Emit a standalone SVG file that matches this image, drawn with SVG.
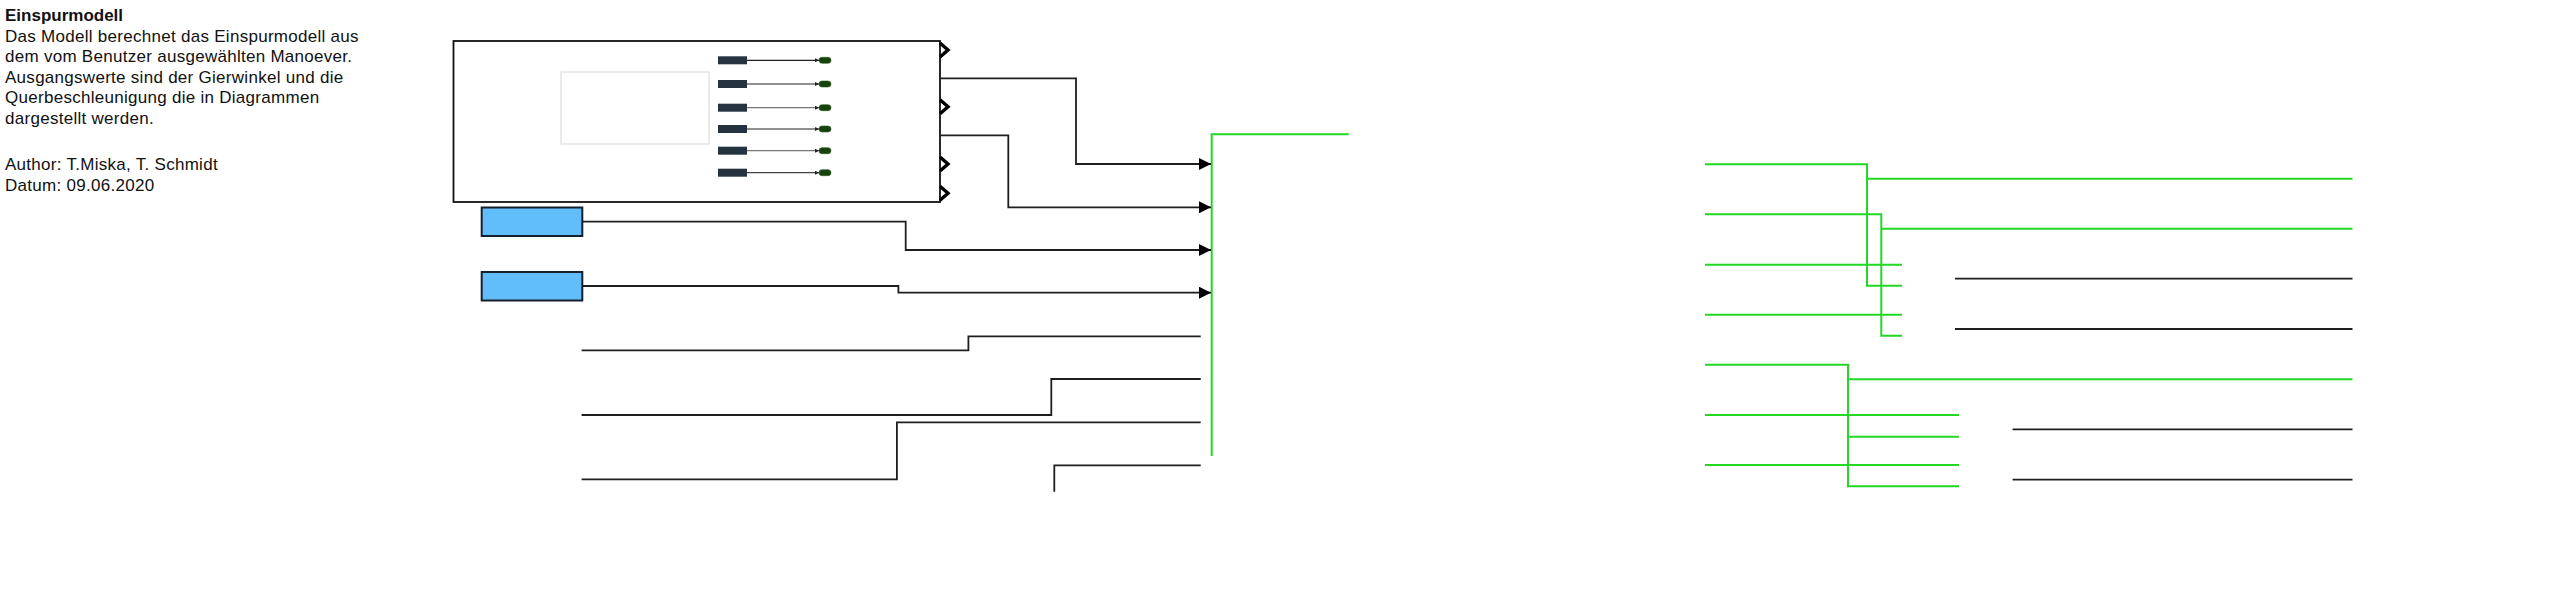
<svg xmlns="http://www.w3.org/2000/svg" width="2560" height="590" viewBox="0 0 2560 590">
<style>
.t{font-family:"Liberation Sans",Arial,sans-serif;font-size:17px;fill:#111;letter-spacing:0.28px}
.b{font-weight:bold;letter-spacing:0}
.w{fill:none;stroke:#1e1e1e;stroke-width:1.8}
.g{fill:none;stroke:#22d822;stroke-width:2}
.chev{fill:none;stroke:#000;stroke-width:3.4;stroke-linejoin:miter}
.port{fill:#25323f}
.led{fill:#17420f;stroke:#2a5a20;stroke-width:0.6}
.blue{fill:#62bdfb;stroke:#14202c;stroke-width:2}
</style>
<defs>
<marker id="ar" markerWidth="12" markerHeight="12" refX="12" refY="6" orient="auto" markerUnits="userSpaceOnUse">
<path d="M0,0 L12,6 L0,12 Z" fill="#000"/>
</marker>
<marker id="sa" markerWidth="4" markerHeight="4" refX="4" refY="2" orient="auto" markerUnits="userSpaceOnUse">
<path d="M0,0 L4,2 L0,4 Z" fill="#222"/>
</marker>
</defs>
<rect width="2560" height="590" fill="#fff"/>
<g id="note">
<text class="t b" x="5" y="20.7">Einspurmodell</text>
<text class="t" x="5" y="42.3">Das Modell berechnet das Einspurmodell aus</text>
<text class="t" x="5" y="62.3">dem vom Benutzer ausgewählten Manoever.</text>
<text class="t" x="5" y="82.8">Ausgangswerte sind der Gierwinkel und die</text>
<text class="t" x="5" y="103.3">Querbeschleunigung die in Diagrammen</text>
<text class="t" x="5" y="124">dargestellt werden.</text>
<text class="t" x="5" y="170.3">Author: T.Miska, T. Schmidt</text>
<text class="t" x="5" y="190.8">Datum: 09.06.2020</text>
</g>
<g id="subsystem">
<rect x="453.5" y="41" width="486.5" height="161" fill="#fff" stroke="#111" stroke-width="1.8"/>
<rect x="561" y="72" width="148" height="72" fill="none" stroke="#ddd" stroke-width="1.2"/>
<rect class="port" x="718" y="56.3" width="29" height="8"/>
<rect class="port" x="718" y="80" width="29" height="8"/>
<rect class="port" x="718" y="103.7" width="29" height="8"/>
<rect class="port" x="718" y="125" width="29" height="8"/>
<rect class="port" x="718" y="146.7" width="29" height="8"/>
<rect class="port" x="718" y="168.7" width="29" height="8"/>
<g stroke-width="1.2" fill="none">
<path d="M747,60.3 H819" stroke="#222" marker-end="url(#sa)"/>
<path d="M747,84 H819" stroke="#222" marker-end="url(#sa)"/>
<path d="M747,107.7 H819" stroke="#777" marker-end="url(#sa)"/>
<path d="M747,129 H819" stroke="#222" marker-end="url(#sa)"/>
<path d="M747,150.7 H819" stroke="#777" marker-end="url(#sa)"/>
<path d="M747,172.7 H819" stroke="#444" marker-end="url(#sa)"/>
</g>
<rect class="led" x="819" y="57.3" width="12" height="6" rx="3"/>
<rect class="led" x="819" y="81" width="12" height="6" rx="3"/>
<rect class="led" x="819" y="104.7" width="12" height="6" rx="3"/>
<rect class="led" x="819" y="126" width="12" height="6" rx="3"/>
<rect class="led" x="819" y="147.7" width="12" height="6" rx="3"/>
<rect class="led" x="819" y="169.7" width="12" height="6" rx="3"/>
<path class="chev" d="M940,43 L948,50 L940,57"/>
<path class="chev" d="M940,99.7 L948,106.7 L940,113.7"/>
<path class="chev" d="M940,157 L948,164 L940,171"/>
<path class="chev" d="M940,186.3 L948,193.3 L940,200.3"/>
</g>
<g id="input1"><rect class="blue" x="481.7" y="207.5" width="100.6" height="28.5"/></g>
<g id="input2"><rect class="blue" x="481.7" y="272" width="100.6" height="28.5"/></g>
<g id="mux">
<path class="g" d="M1348.7,134.3 H1211.7 V456"/>
</g>
<g id="outputs-right">
<path class="g" d="M1705,164.3 H1867 V285.7 H1902 M1867,178.7 H2352.5"/>
<path class="g" d="M1705,214.3 H1881.3 V335.7 H1902 M1881.3,228.7 H2352.5"/>
<path class="g" d="M1705,264.7 H1902"/>
<path class="g" d="M1705,314.7 H1902"/>
<path class="w" d="M1955,278.7 H2352.5"/>
<path class="w" d="M1955,329 H2352.5"/>
<path class="g" d="M1705,364.7 H1848 V486.3 H1959 M1848,379.3 H2352.5 M1848,436.7 H1959"/>
<path class="g" d="M1705,415 H1959"/>
<path class="g" d="M1705,465 H1959"/>
<path class="w" d="M2012.6,429.3 H2352.5"/>
<path class="w" d="M2012.6,479.7 H2352.5"/>
</g>
<g id="connectors">
<path class="w" d="M940,78.3 H1076 V164 H1211" marker-end="url(#ar)"/>
<path class="w" d="M940,135.3 H1008.3 V207.3 H1211" marker-end="url(#ar)"/>
<path class="w" d="M582.3,221.7 H905.7 V250 H1211" marker-end="url(#ar)"/>
<path class="w" d="M582.3,286 H898.4 V292.7 H1211" marker-end="url(#ar)"/>
<path class="w" d="M581.6,350.3 H968.4 V336.3 H1200.7"/>
<path class="w" d="M581.6,415 H1051.3 V379 H1200.7"/>
<path class="w" d="M581.6,479.3 H896.9 V422.3 H1200.7"/>
<path class="w" d="M1054.3,491.7 V465.3 H1200.7"/>
</g>
</svg>
